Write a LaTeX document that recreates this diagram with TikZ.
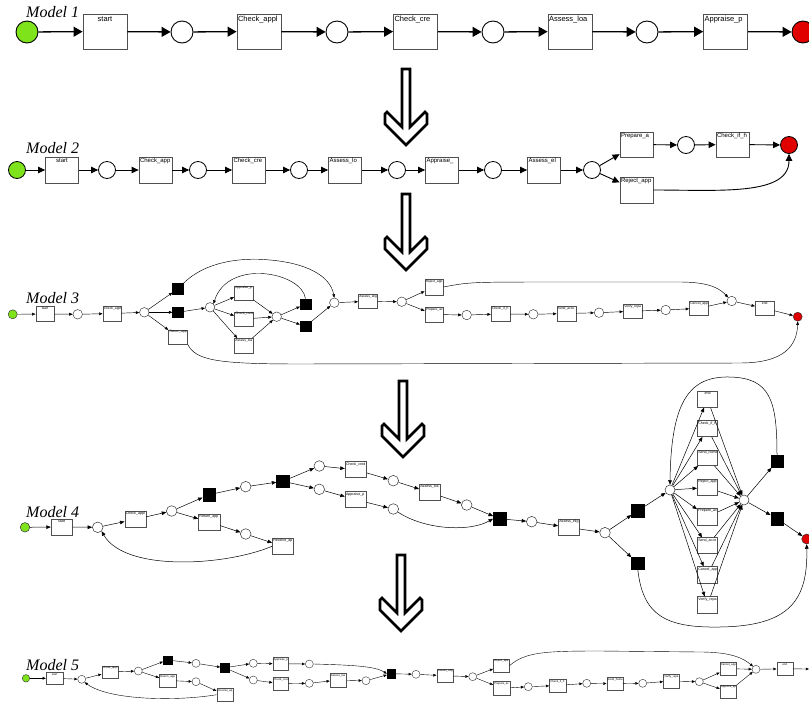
\documentclass[tikz,border=0pt]{standalone}
\usepackage{fontspec}
\setmainfont{Liberation Serif}
\setsansfont{Liberation Sans}
\usetikzlibrary{arrows.meta}
\definecolor{pgreen}{HTML}{7EE31B}
\definecolor{pred}{HTML}{E00000}
\definecolor{bgray}{HTML}{505050}
\newcommand\lfa{\sffamily\fontsize{7.5pt}{8pt}\selectfont}
\newcommand\lfb{\sffamily\fontsize{6pt}{7pt}\selectfont}
\newcommand\lfc{\sffamily\fontsize{3.3pt}{4pt}\selectfont}
\newcommand\lfd{\sffamily\fontsize{3.6pt}{4pt}\selectfont}
\newcommand\lfe{\sffamily\fontsize{2.8pt}{3pt}\selectfont}
\newcommand\lbo{5}
% name, cx, cy, w, h, label, font
\newcommand\mkbox[7]{\node[pbox,minimum width=#4pt,minimum height=#5pt] (#1) at (#2,#3) {};
  \begin{scope}\clip ({#2-#4/2},{#3-#5/2}) rectangle ({#2+#4/2},{#3+#5/2});
  \node[anchor=base west,inner sep=0pt,font=#7] (#1l) at ({#2-#4/2+0.8},{#3-#5/2+\lbo}) {#6};\end{scope}}
\newcommand\mkboxc[7]{\node[pbox,minimum width=#4pt,minimum height=#5pt] (#1) at (#2,#3) {};
  \node[anchor=base,inner sep=0pt,font=#7] (#1l) at ({#2},{#3-#5/2+\lbo}) {#6};}
% name, x, y, diameter, fill
\newcommand\mkpl[5]{\node[ppl,fill=#5,minimum size=#4pt] (#1) at (#2,#3) {};}
\newcommand\mksq[4]{\node[draw=black,fill=black,inner sep=0pt,minimum size=#4pt] (#1) at (#2,#3) {};}
\newcommand\dnarrow[2]{\draw[darr] ({#1-4},{#2}) -- ({#1+4},{#2}) -- ({#1+4},{#2+58}) -- ({#1+19},{#2+43}) -- ({#1+21},{#2+45}) -- ({#1+21},{#2+55}) -- ({#1},{#2+76}) -- ({#1-21},{#2+55}) -- ({#1-21},{#2+45}) -- ({#1-19},{#2+43}) -- ({#1-4},{#2+58}) -- cycle;}
\begin{document}
\begin{tikzpicture}[x=1pt,y=-1pt,
  darr/.style={line width=2.6pt,fill=white,line join=miter,draw=black},
  mlabel/.style={anchor=base west,inner sep=0pt,font=\fontsize{16pt}{18pt}\selectfont\itshape},
  e1/.style={line width=1.3pt,-{Triangle[length=9pt,width=10pt]}},
  e2/.style={line width=0.9pt,-{Triangle[length=7pt,width=6.5pt]}},
  e3/.style={line width=0.45pt,-{Triangle[length=3.5pt,width=2.8pt]}},
  e4/.style={line width=0.5pt,-{Triangle[length=4.5pt,width=3.6pt]}},
  e5/.style={line width=0.4pt,-{Triangle[length=3.2pt,width=2.6pt]}}]
\clip (0,0) rectangle (809,702);
\fill[white] (0,0) rectangle (809,702);

% ---------------- down arrows
\dnarrow{406}{69}
\dnarrow{406}{194}
\dnarrow{403}{381}
\dnarrow{401}{555}

% ---------------- labels
\node[mlabel] (m1) at (26,17) {Model 1};
\node[mlabel] (m2) at (26,153) {Model 2};
\node[mlabel] (m3) at (26,303) {Model 3};
\node[mlabel] (m4) at (26,517) {Model 4};
\node[mlabel] (m5) at (26,670) {Model 5};

% ---------------- Model 1
\begin{scope}[pbox/.style={draw=bgray,fill=white,line width=0.9pt,inner sep=0pt},
  ppl/.style={circle,draw=black,line width=0.9pt,inner sep=0pt}]
\renewcommand\lbo{7}
\mkpl{g1}{27}{32}{22}{pgreen}
\mkboxc{b1a}{105}{31.5}{44}{35}{start}{\lfa}
\mkpl{p1a}{182}{32}{22}{white}
\mkbox{b1b}{259}{31.5}{44}{35}{Check\_appl}{\lfa}
\mkpl{p1b}{337}{32}{22}{white}
\mkbox{b1c}{415.5}{31.5}{44}{35}{Check\_cre}{\lfa}
\mkpl{p1c}{493}{32}{22}{white}
\mkbox{b1d}{570}{31.5}{44}{35}{Assess\_loa}{\lfa}
\mkpl{p1d}{647}{32}{22}{white}
\mkbox{b1e}{725.6}{31.5}{44}{35}{Appraise\_p}{\lfa}
\mkpl{r1}{803}{32}{22}{pred}
\foreach \a/\b in {g1/b1a,b1a/p1a,p1a/b1b,b1b/p1b,p1b/b1c,b1c/p1c,p1c/b1d,b1d/p1d,p1d/b1e,b1e/r1}
  \draw[e1] (\a) -- (\b);
\end{scope}

% ---------------- Model 2
\begin{scope}[pbox/.style={draw=bgray,fill=white,line width=0.8pt,inner sep=0pt},
  ppl/.style={circle,draw=black,line width=0.8pt,inner sep=0pt}]
\renewcommand\lbo{5.6}
\mkpl{g2}{17}{170}{17}{pgreen}
\mkboxc{b2a}{62}{170}{33}{26}{start}{\lfb}
\mkpl{p2a}{107}{170}{17}{white}
\mkbox{b2b}{155.5}{170}{33}{26}{Check\_app}{\lfb}
\mkpl{p2b}{198}{170}{17}{white}
\mkbox{b2c}{249}{170}{33}{26}{Check\_cre}{\lfb}
\mkpl{p2c}{299}{170}{17}{white}
\mkbox{b2d}{345}{170}{33}{26}{Assess\_lo}{\lfb}
\mkpl{p2d}{397}{170}{17}{white}
\mkbox{b2e}{442}{170}{33}{26}{Appraise\_}{\lfb}
\mkpl{p2e}{493}{170}{17}{white}
\mkbox{b2f}{544}{170}{33}{26}{Assess\_el}{\lfb}
\mkpl{p2f}{592}{170}{17}{white}
\mkbox{b2g}{636.5}{144.5}{33}{25}{Prepare\_a}{\lfb}
\mkpl{p2g}{686}{145}{17}{white}
\mkbox{b2h}{732.5}{144.5}{33}{25}{Check\_if\_h}{\lfb}
\mkpl{r2}{789}{145}{17}{pred}
\mkbox{b2i}{636.5}{190}{33}{26}{Reject\_app}{\lfb}
\foreach \a/\b in {g2/b2a,b2a/p2a,p2a/b2b,b2b/p2b,p2b/b2c,b2c/p2c,p2c/b2d,b2d/p2d,p2d/b2e,b2e/p2e,p2e/b2f,b2f/p2f,p2f/b2g,p2f/b2i,b2g/p2g,p2g/b2h,b2h/r2}
  \draw[e2] (\a) -- (\b);
\draw[e2] (b2i.east) .. controls (720,190) and (789,196) .. (r2.south);
\end{scope}

% ---------------- Model 3
\begin{scope}[pbox/.style={draw=bgray,fill=white,line width=0.4pt,inner sep=0pt},
  ppl/.style={circle,draw=black!80,line width=0.45pt,inner sep=0pt}]
\renewcommand\lbo{3.2}
\mkpl{g3}{12.7}{314.3}{9}{pgreen}
\mkboxc{b3a}{45}{314}{18.5}{15}{start}{\lfc}
\mkpl{p3a}{77.7}{314.3}{9.5}{white}
\mkbox{b3b}{112}{313.5}{18.5}{15}{Check\_appl}{\lfc}
\mkpl{p3b}{144.3}{312.3}{9.5}{white}
\mksq{s3a}{178}{288.7}{10.7}
\mksq{s3b}{178}{312.3}{10.7}
\mkbox{b3c}{178}{337}{19}{14.5}{Return\_app}{\lfc}
\mkpl{p3c}{210}{307.3}{9.5}{white}
\mkbox{b3d}{243.8}{293}{19}{14.5}{Appraise\_p}{\lfc}
\mkbox{b3e}{243.8}{319}{19}{14.5}{Check\_cred}{\lfc}
\mkbox{b3f}{243.8}{345.5}{19}{14.5}{Assess\_loa}{\lfc}
\mkpl{p3d}{276.7}{316.7}{9.5}{white}
\mksq{s3c}{305.5}{304.2}{10.7}
\mksq{s3d}{305.5}{326.3}{10.7}
\mkpl{p3e}{334.3}{302.7}{9.5}{white}
\mkbox{b3g}{367.8}{301.3}{19}{14}{Assess\_elig}{\lfc}
\mkpl{p3f}{401.7}{301.7}{9.5}{white}
\mkbox{b3h}{434}{287}{18.5}{15.5}{Reject\_app}{\lfc}
\mkbox{b3i}{434}{314.5}{18.5}{14.5}{Prepare\_ac}{\lfc}
\mkpl{p3g}{466.7}{315}{9.5}{white}
\mkbox{b3j}{500.5}{314}{19}{15}{Check\_if\_h}{\lfc}
\mkpl{p3h}{533.3}{314.3}{9.5}{white}
\mkbox{b3k}{566.3}{313.5}{19}{15}{Send\_acce}{\lfc}
\mkpl{p3i}{599}{312.7}{9.5}{white}
\mkbox{b3l}{632.5}{311.2}{18.5}{14.5}{Verify\_repa}{\lfc}
\mkpl{p3j}{665.7}{310}{9.5}{white}
\mkbox{b3m}{698.8}{308.3}{19}{14.5}{Cancel\_app}{\lfc}
\mkpl{p3k}{731.7}{301}{9.5}{white}
\mkboxc{b3n}{764.7}{308.3}{19}{14.5}{end}{\lfc}
\mkpl{r3}{797.7}{316.7}{9}{pred}
\foreach \a/\b in {g3/b3a,b3a/p3a,p3a/b3b,b3b/p3b,p3b/s3a,p3b/s3b,p3b/b3c,s3b/p3c,p3c/b3d,p3c/b3e,p3c/b3f,b3d/p3d,b3e/p3d,b3f/p3d,p3d/s3c,p3d/s3d,s3d/p3e,p3e/b3g,b3g/p3f,p3f/b3h,p3f/b3i,b3i/p3g,p3g/b3j,b3j/p3h,p3h/b3k,b3k/p3i,p3i/b3l,b3l/p3j,p3j/b3m,b3m/p3k,p3k/b3n,b3n/r3}
  \draw[e3] (\a) -- (\b);
\draw[e3] (s3a.north east) .. controls (205,262) and (240,257) .. (270,260) .. controls (305,263) and (330,275) .. (p3e.north);
\draw[e3] (s3c.north) .. controls (302,272) and (228,258) .. (p3c.north east);
\draw[e3] (b3c.south east) .. controls (196,360) and (215,364) .. (300,364) -- (740,363) .. controls (785,363) and (797,345) .. (r3.south);
\draw[e3] (b3h.east) .. controls (470,282) .. (560,282) -- (680,282) .. controls (712,282) and (721,290) .. (p3k.north west);
\end{scope}

% ---------------- Model 4
\begin{scope}[pbox/.style={draw=bgray,fill=white,line width=0.5pt,inner sep=0pt},
  ppl/.style={circle,draw=black!80,line width=0.5pt,inner sep=0pt}]
\renewcommand\lbo{3.4}
\mkpl{g4}{25}{527.3}{9.5}{pgreen}
\mkboxc{b4a}{61.7}{527}{21.3}{16}{start}{\lfd}
\mkpl{p4a}{97.7}{527.3}{10.6}{white}
\mkbox{b4b}{135.3}{519.3}{21}{16.5}{Check\_appl}{\lfd}
\mkpl{p4b}{171.7}{511}{10.6}{white}
\mksq{s4a}{209}{494.7}{12.5}
\mkbox{b4c}{209.2}{522}{21.5}{16}{Return\_app}{\lfd}
\mkpl{p4c}{245.7}{486.7}{10.6}{white}
\mkpl{p4d}{245.7}{534}{10.6}{white}
\mksq{s4b}{282.8}{481.3}{12.5}
\mkbox{b4d}{282.5}{546.3}{20.5}{16}{Receive\_ap}{\lfd}
\mkpl{p4e}{319.3}{466}{10.6}{white}
\mkpl{p4f}{319.3}{489.3}{10.6}{white}
\mkbox{b4e}{355.8}{469.7}{21.5}{16}{Check\_cred}{\lfd}
\mkbox{b4f}{355.8}{499.7}{21.5}{16}{Appraise\_p}{\lfd}
\mkpl{p4g}{393.3}{480.7}{10.6}{white}
\mkpl{p4h}{393.3}{509}{10.6}{white}
\mkbox{b4g}{430}{492.5}{21.4}{16.4}{Assess\_loa}{\lfd}
\mkpl{p4i}{466.7}{505}{10.6}{white}
\mksq{s4c}{499.5}{518.7}{12.5}
\mkpl{p4j}{531.7}{521.7}{10.6}{white}
\mkbox{b4h}{568.8}{527.5}{21}{16.4}{Assess\_elig}{\lfd}
\mkpl{p4k}{605}{532.7}{10.6}{white}
\mksq{s4d}{637.8}{510.8}{12.5}
\mksq{s4e}{637.8}{563.3}{12.5}
\mkpl{p4l}{670}{490}{10}{white}
\mkboxc{b4i}{707.5}{399.2}{20.4}{16.3}{end}{\lfd}
\mkbox{b4j}{707.5}{428.7}{20.4}{16}{Check\_if\_h}{\lfd}
\mkbox{b4k}{707.5}{457.8}{20.4}{15.7}{Send\_home}{\lfd}
\mkbox{b4l}{707.5}{487.5}{20.4}{16.4}{Reject\_app}{\lfd}
\mkbox{b4m}{707.5}{516.7}{20.4}{16.7}{Prepare\_ac}{\lfd}
\mkbox{b4n}{707.5}{545.5}{20.4}{15.6}{Send\_acce}{\lfd}
\mkbox{b4o}{707.5}{575}{20.4}{16.6}{Cancel\_app}{\lfd}
\mkbox{b4p}{707.5}{605}{20.4}{16.6}{Verify\_repa}{\lfd}
\mkpl{p4m}{744}{500}{10}{white}
\mksq{s4f}{777}{461.3}{12.5}
\mksq{s4g}{777}{518.7}{12.5}
\mkpl{r4}{806.7}{539}{10}{pred}
\foreach \a/\b in {g4/b4a,b4a/p4a,p4a/b4b,b4b/p4b,p4b/s4a,p4b/b4c,s4a/p4c,p4c/s4b,s4b/p4e,s4b/p4f,b4c/p4d,p4d/b4d,p4e/b4e,b4e/p4g,p4g/b4g,b4g/p4i,p4i/s4c,p4f/b4f,b4f/p4h,s4c/p4j,p4j/b4h,b4h/p4k,p4k/s4d,p4k/s4e,s4d/p4l,p4m/s4f,p4m/s4g,s4g/r4}
  \draw[e4] (\a) -- (\b);
\foreach \b in {b4i,b4j,b4k,b4l,b4m,b4n,b4o,b4p}{
  \draw[e4] (p4l) -- (\b);
  \draw[e4] (\b) -- (p4m);
}
\draw[e4] (b4d.west) .. controls (225,566) and (125,572) .. (p4a.south east);
\draw[e4] (p4h) .. controls (425,530) and (470,532) .. (s4c.west);
\draw[e4] (s4f.north) .. controls (777,400) and (770,378) .. (730,377) .. controls (690,376) and (671,400) .. (p4l.north);
\draw[e4] (s4e.south) .. controls (643,615) and (665,628) .. (720,627) .. controls (790,626) and (808,600) .. (r4.south);
\end{scope}

% ---------------- Model 5
\begin{scope}[pbox/.style={draw=bgray,fill=white,line width=0.4pt,inner sep=0pt},
  ppl/.style={circle,draw=black!80,line width=0.4pt,inner sep=0pt}]
\renewcommand\lbo{2.8}
\mkpl{g5}{26}{678.3}{7.5}{pgreen}
\mkboxc{b5a}{54.7}{678.3}{17.3}{12}{start}{\lfe}
\mkpl{p5a}{81.7}{679.3}{8}{white}
\mkbox{b5b}{110}{672}{16.6}{12.6}{Check\_appl}{\lfe}
\mkpl{p5b}{138.3}{671}{8}{white}
\mksq{s5a}{167.5}{660}{8.5}
\mkbox{b5c}{167.7}{680.5}{16.7}{12.4}{Return\_app}{\lfe}
\mkpl{p5c}{196}{663.3}{8}{white}
\mkpl{p5d}{196}{681.7}{8}{white}
\mksq{s5b}{224.7}{667.8}{8.5}
\mkbox{b5d}{224.7}{694.7}{16}{12.7}{Receive\_ap}{\lfe}
\mkpl{p5e}{253.3}{663.3}{8}{white}
\mkpl{p5f}{253.3}{680}{8}{white}
\mkbox{b5e}{280.5}{663.8}{15.6}{12.3}{Appraise\_p}{\lfe}
\mkbox{b5f}{280.5}{683.7}{15.6}{12.7}{Check\_cred}{\lfe}
\mkpl{p5g}{309.3}{664}{8}{white}
\mkpl{p5h}{309.3}{683.3}{8}{white}
\mkbox{b5g}{338.3}{680}{16.7}{13.4}{Assess\_loa}{\lfe}
\mkpl{p5i}{366}{680.7}{8}{white}
\mksq{s5c}{391.3}{673.7}{8.5}
\mkpl{p5j}{416}{674.3}{8}{white}
\mkbox{b5h}{444.7}{675.7}{16}{13.3}{Assess\_elig}{\lfe}
\mkpl{p5k}{472.7}{676.7}{8}{white}
\mkbox{b5i}{501.3}{665.7}{16}{13.3}{Reject\_app}{\lfe}
\mkbox{b5j}{501.7}{688.3}{16.7}{13.3}{Prepare\_ac}{\lfe}
\mkpl{p5l}{528.3}{686.7}{8}{white}
\mkbox{b5k}{557.5}{685.5}{16.4}{12.4}{Check\_if\_h}{\lfe}
\mkpl{p5m}{586.7}{683.3}{8}{white}
\mkbox{b5l}{614.7}{683.7}{16}{12.7}{Send\_home}{\lfe}
\mkpl{p5n}{642.7}{683.3}{8}{white}
\mkbox{b5m}{671.3}{681}{16}{13.4}{Verify\_repa}{\lfe}
\mkpl{p5o}{699.3}{681.7}{8}{white}
\mkbox{b5n}{728.3}{668.7}{16.7}{12.7}{Cancel\_app}{\lfe}
\mkbox{b5o}{728.3}{691.7}{16.7}{13.3}{Approve\_ap}{\lfe}
\mkpl{p5p}{756}{669.3}{8}{white}
\mkboxc{b5p}{784.7}{668.8}{16}{12.3}{end}{\lfe}
\coordinate (e5) at (809,669);
\foreach \a/\b in {g5/b5a,b5a/p5a,p5a/b5b,b5b/p5b,p5b/s5a,p5b/b5c,s5a/p5c,p5c/s5b,b5c/p5d,p5d/b5d,s5b/p5e,s5b/p5f,p5e/b5e,b5e/p5g,p5f/b5f,b5f/p5h,p5h/b5g,b5g/p5i,p5i/s5c,s5c/p5j,p5j/b5h,b5h/p5k,p5k/b5i,p5k/b5j,b5j/p5l,p5l/b5k,b5k/p5m,p5m/b5l,b5l/p5n,p5n/b5m,b5m/p5o,p5o/b5n,p5o/b5o,b5n/p5p,b5o/p5p,p5p/b5p,b5p/e5}
  \draw[e5] (\a) -- (\b);
\draw[e5] (b5d.west) .. controls (180,701) and (110,701) .. (p5a.south east);
\draw[e5] (p5g.east) .. controls (350,665) and (375,666) .. (s5c.west);
\draw[e5] (b5i.east) .. controls (525,652) and (545,651) .. (600,651) -- (700,652) .. controls (735,652) and (745,660) .. (p5p.north west);
\end{scope}
\end{tikzpicture}
\end{document}
